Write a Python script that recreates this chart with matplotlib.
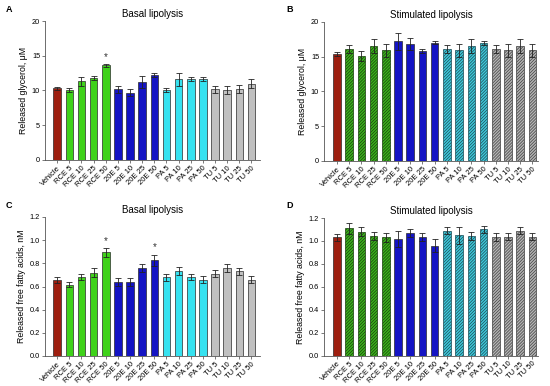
import numpy as np
import matplotlib
matplotlib.use("Agg")
import matplotlib.pyplot as plt

plt.rcParams['font.family'] = ['Liberation Sans', 'DejaVu Sans']
plt.rcParams['hatch.linewidth'] = 0.5

# groups / labels
labels = ["Vehicle", "RCE 5", "RCE 10", "RCE 25", "RCE 50",
          "20E 5", "20E 10", "20E 25", "20E 50",
          "PA 5", "PA 10", "PA 25", "PA 50",
          "TU 5", "TU 10", "TU 25", "TU 50"]
groups = ["veh"] + ["rce"] * 4 + ["20e"] * 4 + ["pa"] * 4 + ["tu"] * 4

# A: basal glycerol
glyc_basal = [10.3, 10.1, 11.3, 11.8, 13.6, 10.2, 9.7, 11.2, 12.2,
              10.1, 11.6, 11.6, 11.7, 10.2, 10.1, 10.2, 11.0]
glyc_basal_err = [0.2, 0.3, 0.7, 0.3, 0.25, 0.5, 0.5, 0.9, 0.3,
                  0.3, 0.9, 0.3, 0.3, 0.5, 0.6, 0.6, 0.7]

# B: stimulated glycerol
glyc_stim = [15.4, 16.1, 15.1, 16.5, 15.9, 17.2, 16.8, 15.8, 17.0,
             16.1, 15.9, 16.5, 16.95, 16.1, 15.9, 16.5, 15.9]
glyc_stim_err = [0.35, 0.6, 0.7, 1.0, 1.0, 1.2, 0.9, 0.3, 0.2,
                 0.6, 1.0, 1.0, 0.25, 0.6, 1.0, 1.0, 1.0]

# C: basal FFA
ffa_basal = [0.655, 0.615, 0.68, 0.72, 0.895, 0.64, 0.64, 0.76, 0.825,
             0.68, 0.73, 0.68, 0.66, 0.71, 0.76, 0.73, 0.66]
ffa_basal_err = [0.025, 0.02, 0.025, 0.04, 0.04, 0.035, 0.035, 0.035, 0.05,
                 0.03, 0.035, 0.025, 0.03, 0.03, 0.035, 0.03, 0.03]

# D: stimulated FFA
ffa_stim = [1.03, 1.11, 1.08, 1.045, 1.03, 1.02, 1.065, 1.035, 0.96,
            1.09, 1.05, 1.045, 1.10, 1.035, 1.035, 1.09, 1.035]
ffa_stim_err = [0.03, 0.05, 0.04, 0.035, 0.04, 0.07, 0.035, 0.035, 0.055,
                0.03, 0.075, 0.035, 0.03, 0.035, 0.03, 0.03, 0.03]

stars_A = [4]
stars_C = [4, 8]

solid = {"veh": "#9e1f10", "rce": "#3fd21a", "20e": "#1414c4",
         "pa": "#36e2f0", "tu": "#c0c0c0"}
hatched = {"veh": "#9e1f10", "rce": "#3cb41c", "20e": "#1414c4",
           "pa": "#40cadb", "tu": "#b4b4b4"}
hatch_ink = {"rce": "#1a3e0e", "pa": "#1a4a55", "tu": "#404040"}

W, H = 550, 386
fig = plt.figure(figsize=(W / 100, H / 100), dpi=100)


def px_axes(left, top, right, bottom):
    return fig.add_axes([left / W, 1 - bottom / H, (right - left) / W, (bottom - top) / H])


def panel(ax, vals, errs, title, ylabel, ymax, yticks, fmt, stim, stars, xlim):
    x = np.arange(len(vals))
    for i, (v, e, g) in enumerate(zip(vals, errs, groups)):
        if stim and g in ("rce", "pa", "tu"):
            ax.bar(i, v, width=0.62, color=hatched[g], edgecolor=hatch_ink[g],
                   linewidth=0.5, hatch="/" * 11, zorder=2)
        else:
            ax.bar(i, v, width=0.62, color=solid[g], edgecolor="#2a2a2a",
                   linewidth=0.5, zorder=2)
    ax.errorbar(x, vals, yerr=errs, fmt="none", ecolor="#222222",
                elinewidth=0.6, capsize=2, capthick=0.6, zorder=3)
    for i in stars:
        ax.text(i, vals[i] + errs[i] + ymax * 0.015, "*", ha="center",
                va="bottom", fontsize=7, color="#333333")
    ax.set_xlim(*xlim)
    ax.set_ylim(0, ymax)
    ax.set_yticks(yticks)
    ax.set_yticklabels([fmt.format(t) for t in yticks], fontsize=5.3)
    ax.set_xticks(x)
    ax.set_xticklabels(labels, rotation=45, ha="right", rotation_mode="anchor",
                       fontsize=5.5)
    ax.tick_params(axis="both", length=2, width=0.5, pad=1.5, color="#444444")
    for s in ("top", "right"):
        ax.spines[s].set_visible(False)
    for s in ("left", "bottom"):
        ax.spines[s].set_linewidth(0.6)
        ax.spines[s].set_color("#555555")
    ax.set_title(title, fontsize=7, pad=3)
    ax.set_ylabel(ylabel, fontsize=6.3, labelpad=3)


axA = px_axes(45, 21, 260, 160)
axB = px_axes(324, 22, 538, 161)
axC = px_axes(45, 217, 260, 356)
axD = px_axes(324, 218, 538, 355.5)

panel(axA, glyc_basal, glyc_basal_err, "Basal lipolysis", "Released glycerol, \u03bcM",
      20, [0, 5, 10, 15, 20], "{:.0f}", False, stars_A, (-1.0, 16.7))
panel(axB, glyc_stim, glyc_stim_err, "Stimulated lipolysis", "Released glycerol, \u03bcM",
      20, [0, 5, 10, 15, 20], "{:.0f}", True, [], (-1.05, 16.45))
panel(axC, ffa_basal, ffa_basal_err, "Basal lipolysis", "Released free fatty acids, nM",
      1.2, [0, 0.2, 0.4, 0.6, 0.8, 1.0, 1.2], "{:.1f}", False, stars_C, (-1.0, 16.7))
panel(axD, ffa_stim, ffa_stim_err, "Stimulated lipolysis", "Released free fatty acids, nM",
      1.2, [0, 0.2, 0.4, 0.6, 0.8, 1.0, 1.2], "{:.1f}", True, [], (-1.05, 16.45))

for lab, (xp, yp) in zip("ABCD", [(6, 10), (286, 10), (6, 205), (286, 205)]):
    fig.text(xp / W, 1 - yp / H, lab, fontsize=6.5, fontweight="bold", va="center")

fig.savefig("out.png", dpi=100)
